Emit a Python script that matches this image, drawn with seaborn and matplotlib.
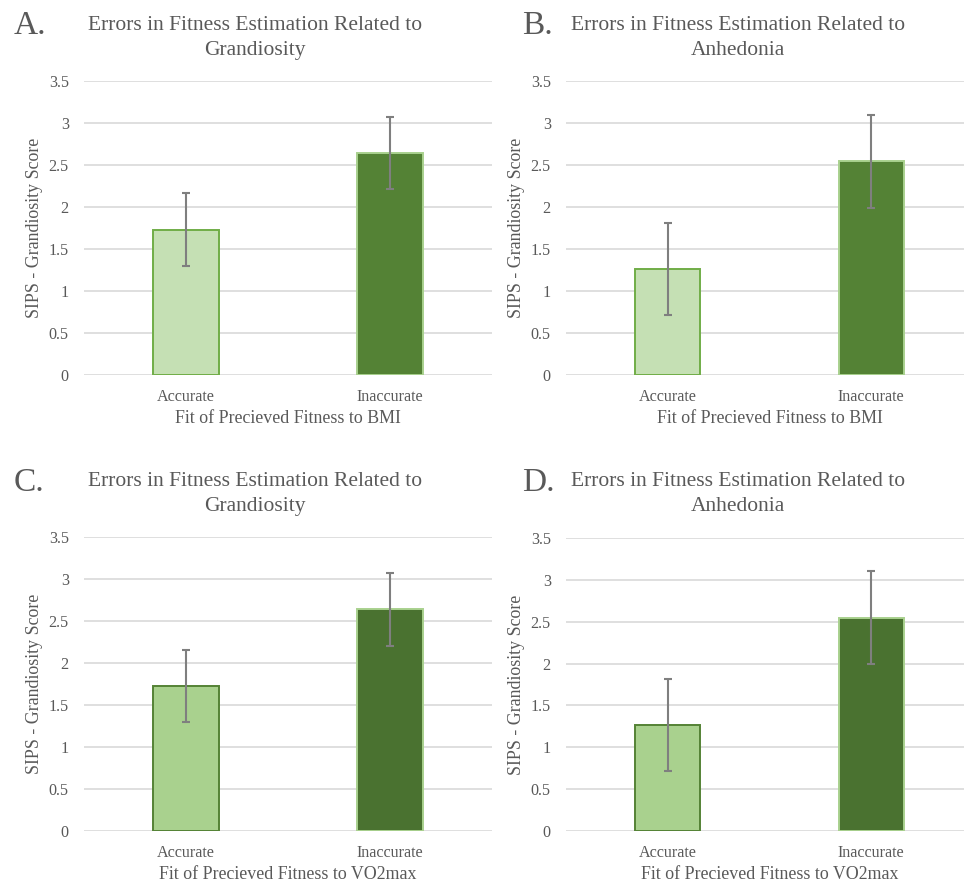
import matplotlib

matplotlib.use("Agg")
import matplotlib.pyplot as plt
import pandas as pd
import seaborn as sns

# 資料：各組平均值與誤差
categories = ["Accurate", "Inaccurate"]
bmi_grandiosity_means = [1.73, 2.64]
bmi_grandiosity_err = [0.43, 0.43]
bmi_anhedonia_means = [1.26, 2.54]
bmi_anhedonia_err = [0.55, 0.55]
vo2_grandiosity_means = [1.73, 2.64]
vo2_grandiosity_err = [0.43, 0.43]
vo2_anhedonia_means = [1.27, 2.55]
vo2_anhedonia_err = [0.55, 0.55]

panel_letters = ["A.", "B.", "C.", "D."]
titles = [
    "Errors in Fitness Estimation Related to\nGrandiosity",
    "Errors in Fitness Estimation Related to\nAnhedonia",
    "Errors in Fitness Estimation Related to\nGrandiosity",
    "Errors in Fitness Estimation Related to\nAnhedonia",
]
xlabels = [
    "Fit of Precieved Fitness to BMI",
    "Fit of Precieved Fitness to BMI",
    "Fit of Precieved Fitness to VO2max",
    "Fit of Precieved Fitness to VO2max",
]
ylabel = "SIPS - Grandiosity Score"
yticks = [0, 0.5, 1, 1.5, 2, 2.5, 3, 3.5]
ytick_labels = ["0", "0.5", "1", "1.5", "2", "2.5", "3", "3.5"]

sns.set_theme(style="white")
plt.rcParams["font.family"] = ["Liberation Serif", "DejaVu Serif"]

TEXT = "#595959"
GRID = "#d9d9d9"
ERR = "#7f7f7f"

top_fill = ["#c5e0b4", "#548235"]
top_edge = ["#70ad47", "#a9d18e"]
bot_fill = ["#a9d18e", "#4a7230"]
bot_edge = ["#548235", "#a9d18e"]

W, H = 964, 884
fig = plt.figure(figsize=(W / 100, H / 100), dpi=100)

# 每個子圖的座標 (像素)：左、右、0 的 y、3.5 的 y
boxes = [
    (84, 492, 375, 80.7),
    (566, 973, 375, 80.7),
    (84, 492, 831, 537.3),
    (566, 973, 831, 538),
]
title_pos = [(255, 16), (738, 16), (255, 472), (738, 472)]
letter_pos = [(14, 26), (522, 26), (14, 483), (522, 483)]

panels = [
    (bmi_grandiosity_means, bmi_grandiosity_err, top_fill, top_edge),
    (bmi_anhedonia_means, bmi_anhedonia_err, top_fill, top_edge),
    (vo2_grandiosity_means, vo2_grandiosity_err, bot_fill, bot_edge),
    (vo2_anhedonia_means, vo2_anhedonia_err, bot_fill, bot_edge),
]

for i, (means, errs, fills, edges) in enumerate(panels):
    left, right, y0, y35 = boxes[i]
    ax = fig.add_axes([left / W, (H - y0) / H, (right - left) / W, (y0 - y35) / H])
    df = pd.DataFrame({"group": categories, "score": means})
    sns.barplot(
        data=df,
        x="group",
        y="score",
        hue="group",
        palette=fills,
        saturation=1,
        width=0.32,
        legend=False,
        ax=ax,
        zorder=2,
    )
    for patch, ec in zip(ax.patches, edges):
        patch.set_edgecolor(ec)
        patch.set_linewidth(1.4)
    ax.errorbar(
        categories,
        means,
        yerr=errs,
        fmt="none",
        ecolor=ERR,
        elinewidth=1.5,
        capsize=3,
        capthick=1.5,
        zorder=3,
    )
    ax.set_xlim(-0.5, 1.5)
    ax.set_ylim(0, 3.5)
    ax.set_yticks(yticks)
    ax.set_yticklabels(ytick_labels)
    ax.yaxis.grid(True, color=GRID, linewidth=1.2, zorder=0)
    ax.set_axisbelow(True)
    for s in ax.spines.values():
        s.set_visible(False)
    ax.tick_params(axis="both", length=0, labelsize=11.6, colors=TEXT)
    ax.tick_params(axis="y", pad=11)
    ax.tick_params(axis="x", pad=10)
    ax.set_xlabel(xlabels[i], fontsize=12.9, color=TEXT, labelpad=4)
    ax.set_ylabel(ylabel, fontsize=12.9, color=TEXT, labelpad=4)

    tx, ty = title_pos[i]
    fig.text(tx / W, 1 - ty / H, titles[i], ha="center", va="top",
             fontsize=15.5, color=TEXT, linespacing=1.4)
    lx, ly = letter_pos[i]
    fig.text(lx / W, 1 - ly / H, panel_letters[i], ha="left", va="center",
             fontsize=24, color=TEXT)

fig.savefig("out.png", dpi=100)
